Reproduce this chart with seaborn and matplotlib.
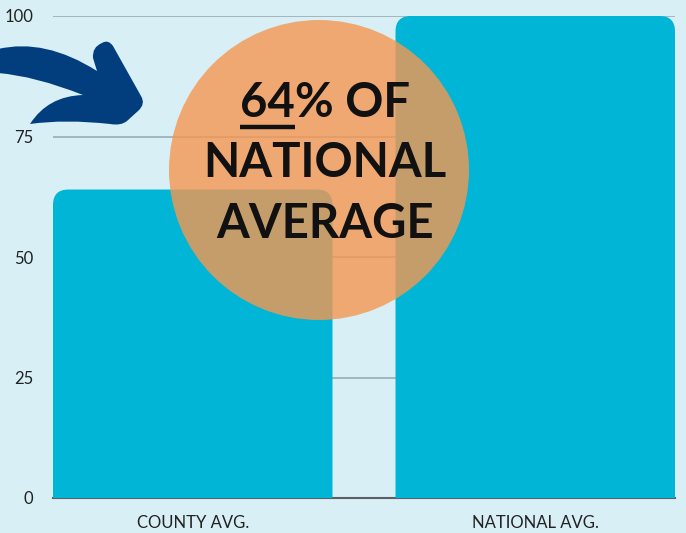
import matplotlib
matplotlib.use('Agg')
import matplotlib.pyplot as plt
import seaborn as sns
import pandas as pd
from matplotlib.patches import FancyBboxPatch, Ellipse, PathPatch, Rectangle
from matplotlib.path import Path
from matplotlib.lines import Line2D

categories = ['COUNTY AVG.', 'NATIONAL AVG.']
values = [64, 100]
y_ticks = [0, 25, 50, 75, 100]
headline = ['64% OF', 'NATIONAL', 'AVERAGE']
underlined = '64'

bg = '#d8eff6'
bar_color = '#00b5d5'

sns.set_theme(style='white')
plt.rcParams['font.family'] = ['Lato', 'DejaVu Sans']

df = pd.DataFrame({'label': categories, 'value': values})

fig = plt.figure(figsize=(6.86, 5.33), dpi=100, facecolor=bg)
W, H = 686, 533
ax = fig.add_axes([53 / W, 1 - 498 / H, (675 - 53) / W, (498 - 16) / H])
ax.set_facecolor(bg)

sns.barplot(data=df, x='label', y='value', color=bar_color, width=0.816,
            saturation=1, ax=ax, zorder=3)
ax.set_xlim(-0.408, 1.408)
ax.set_ylim(0, 100)

# swap the plain bars for ones with rounded top corners
rx = 0.045
ry = 3.2
clip = Rectangle((-1, 0), 3, 200, transform=ax.transData)
for p in list(ax.patches):
    x0, w, h = p.get_x(), p.get_width(), p.get_height()
    p.set_visible(False)
    rb = FancyBboxPatch((x0, -2 * ry), w, h + 2 * ry, boxstyle=f'round,pad=0,rounding_size={rx}',
                        mutation_aspect=ry / rx, facecolor=bar_color, edgecolor='none',
                        zorder=3)
    ax.add_patch(rb)
    rb.set_clip_path(clip)

ax.set_yticks(y_ticks)
ax.yaxis.grid(True, color='#9fb0b8', linewidth=1.3, zorder=1)
ax.set_axisbelow(True)
for s in ['top', 'right', 'left']:
    ax.spines[s].set_visible(False)
ax.spines['bottom'].set_color('#5a6066')
ax.spines['bottom'].set_linewidth(1.5)
ax.spines['bottom'].set_zorder(2)
ax.tick_params(axis='both', length=0, labelsize=12, colors='#222222')
ax.tick_params(axis='y', pad=14)
ax.tick_params(axis='x', pad=12)
ax.set_xlabel('')
ax.set_ylabel('')

# orange circle
circ = Ellipse((319 / W, 1 - 170 / H), 300 / W, 300 / H, transform=fig.transFigure,
               facecolor='#f69751', alpha=0.8, edgecolor='none', zorder=5)
fig.add_artist(circ)

# headline text
line_y = [103, 163, 224]
txts = []
for t, yy in zip(headline, line_y):
    tx = fig.text(325 / W, 1 - yy / H, t, ha='center', va='center', fontsize=34,
                  fontweight='bold', color='#111111', zorder=6)
    txts.append(tx)

fig.canvas.draw()
r = fig.canvas.get_renderer()
bb = txts[0].get_window_extent(r)
probe = fig.text(0, 0, underlined, fontsize=34, fontweight='bold')
w64 = probe.get_window_extent(r).width
probe.remove()
uy = (bb.y0 - 2) / H
fig.add_artist(Line2D([bb.x0 / W, (bb.x0 + w64) / W], [uy, uy], transform=fig.transFigure,
                      color='#111111', linewidth=3.2, solid_capstyle='butt', zorder=6))

# curved arrow drawn as an outline, pixel coords with y going down
M, C, L, Z = Path.MOVETO, Path.CURVE3, Path.LINETO, Path.CLOSEPOLY
outline = [
    (M, (-2, 49)),
    (C, (45, 38)), (C, (97, 71)),
    (L, (93, 58)),
    (C, (92, 47)), (C, (102, 43)),
    (C, (108, 39)), (C, (113, 46)),
    (L, (141, 96)),
    (C, (146, 104)), (C, (138, 111)),
    (L, (127, 121)),
    (C, (121, 126)), (C, (110, 124)),
    (C, (65, 119)), (C, (30, 124)),
    (C, (48, 96)), (C, (83, 95)),
    (C, (35, 76)), (C, (-2, 73)),
    (Z, (-2, 73)),
]
codes = [c for c, _ in outline]
verts = [(x / W, 1 - y / H) for _, (x, y) in outline]
arrow = PathPatch(Path(verts, codes), transform=fig.transFigure, facecolor='#023e7d',
                  edgecolor='none', zorder=6)
fig.add_artist(arrow)

fig.savefig('out.png', dpi=100, facecolor=bg)
